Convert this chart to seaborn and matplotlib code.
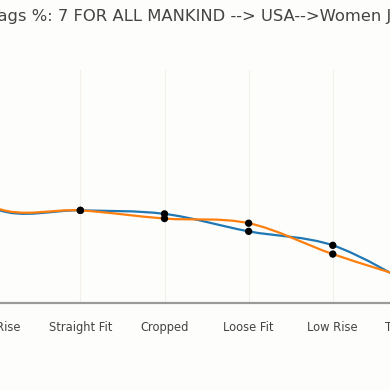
import matplotlib
matplotlib.use('Agg')
import matplotlib.pyplot as plt
from matplotlib.path import Path
from matplotlib.patches import PathPatch
import seaborn as sns
import numpy as np

# data (share of tags in %)
categories = ['Skinny', 'Mid Rise', 'Straight Fit', 'Cropped', 'Loose Fit', 'Low Rise', 'Tapered Fit']
series_a = [26.3, 16.1, 15.9, 15.3, 12.3, 9.9, 2.7]
series_b = [26.3, 16.3, 15.9, 14.5, 13.7, 8.4, 3.8]
title = 'Tags %: 7 FOR ALL MANKIND --> USA-->Women Jeans'

colors = {'a': '#1f77b4', 'b': '#ff7f0e'}


def spline_path(xs, ys):
    """Catmull-Rom curve through the points as cubic bezier segments"""
    pts = np.column_stack([xs, ys]).astype(float)
    padded = np.vstack([pts[0], pts, pts[-1]])
    verts = [pts[0]]
    codes = [Path.MOVETO]
    for i in range(len(pts) - 1):
        p0, p1, p2, p3 = padded[i], padded[i + 1], padded[i + 2], padded[i + 3]
        verts += [p1 + (p2 - p0) / 6, p2 - (p3 - p1) / 6, p2]
        codes += [Path.CURVE4] * 3
    return Path(verts, codes)


sns.set_style('white')
plt.rcParams['font.family'] = ['DejaVu Sans']

fig = plt.figure(figsize=(3.9, 3.9), dpi=100)
fig.patch.set_facecolor('#fdfdfc')
# the reference is a crop of a wider chart, so the axes run past the figure edges
ax = fig.add_axes([-130 / 390, 87 / 390, 589 / 390, 233 / 390])
ax.set_facecolor('#fdfdfc')

x = np.arange(len(categories))
for key, vals in (('a', series_a), ('b', series_b)):
    ax.add_patch(PathPatch(spline_path(x, vals), facecolor='none', edgecolor=colors[key],
                           lw=1.6, zorder=2))
    sns.scatterplot(x=x, y=vals, color='black', s=28, edgecolor='none', zorder=3, ax=ax)

ax.set_xlim(-0.5, len(categories) - 0.5)
ax.set_ylim(0, 40)
ax.set_xticks(x)
ax.set_xticklabels(categories, fontsize=8.3, color='#444444')
ax.set_yticks([])
ax.tick_params(axis='x', length=0, pad=13)
for xi in x:
    ax.axvline(xi, color='#f5efea', lw=0.8, zorder=1)
for side in ['top', 'left', 'right']:
    ax.spines[side].set_visible(False)
ax.spines['bottom'].set_color('#9a9a9a')
ax.spines['bottom'].set_linewidth(1.6)

fig.text(-10 / 390, 1 - 17 / 390, title, ha='left', va='center', fontsize=11.8, color='#444444')

plt.savefig('out.png', dpi=100, facecolor=fig.get_facecolor())
